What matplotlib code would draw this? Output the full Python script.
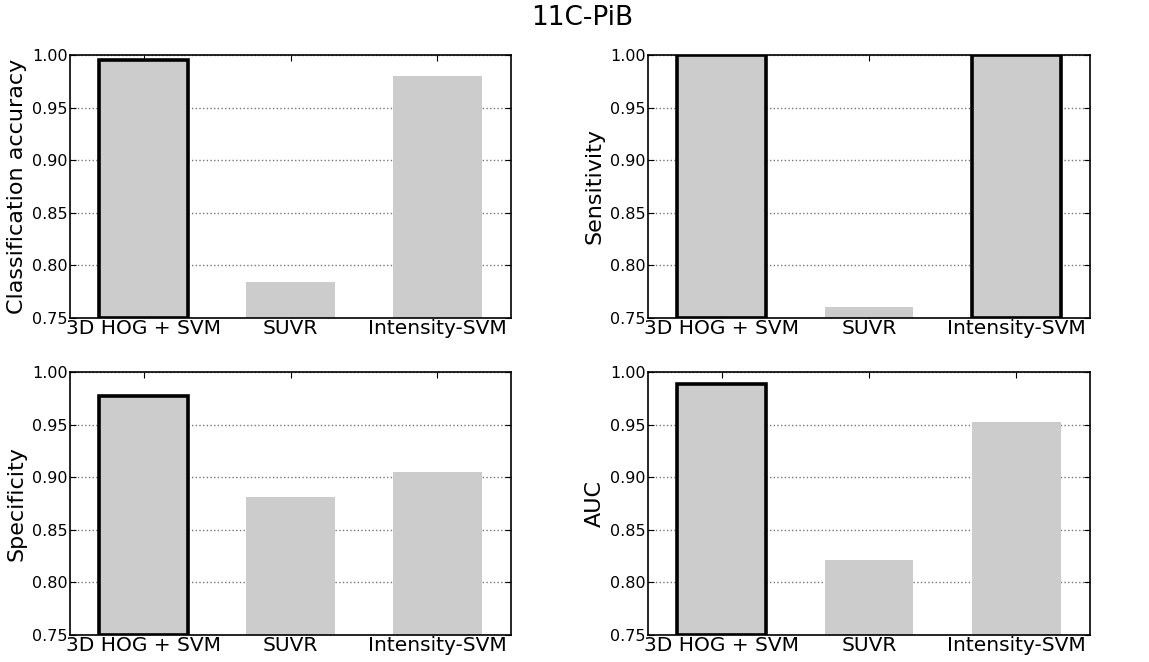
import numpy as np
import matplotlib
matplotlib.use('Agg')
import matplotlib.pyplot as plt

# ── data ──────────────────────────────────────────────────────────────────────
METHODS     = ["3D HOG + SVM", "SUVR", "Intensity-SVM"]
ACCURACY    = [0.995, 0.784, 0.980]
SENSITIVITY = [1.000, 0.760, 1.000]
SPECIFICITY = [0.977, 0.881, 0.905]
AUC         = [0.989, 0.821, 0.952]
YLABELS     = ["Classification accuracy", "Sensitivity", "Specificity", "AUC"]
YTICKS      = [0.75, 0.80, 0.85, 0.90, 0.95, 1.00]
TITLE       = "11C-PiB"

W, H = 1149, 662
fig = plt.figure(figsize=(W/100, H/100), dpi=100, facecolor='white')

# axes boxes in pixels: left, right, top, bottom
BOXES = [(70, 511, 55, 318), (648, 1090, 55, 318),
         (70, 511, 372, 635), (648, 1090, 372, 635)]

for vals, ylab, (l, r, t, b) in zip([ACCURACY, SENSITIVITY, SPECIFICITY, AUC],
                                    YLABELS, BOXES):
    ax = fig.add_axes([l/W, 1-b/H, (r-l)/W, (b-t)/H])
    x = np.arange(len(METHODS))
    best = max(vals)
    for xi, v in zip(x, vals):
        hi = v == best
        ax.bar(xi, v - 0.75, bottom=0.75, width=0.6, color='#cccccc',
               edgecolor='black' if hi else 'none',
               linewidth=2.6 if hi else 0, zorder=2)
    ax.set_xlim(-0.5, 2.5)
    ax.set_ylim(0.75, 1.0)
    ax.set_xticks(x)
    ax.set_xticklabels(METHODS, fontsize=14.5)
    ax.set_yticks(YTICKS)
    ax.set_yticklabels([f"{v:.2f}" for v in YTICKS], fontsize=11.5)
    ax.set_ylabel(ylab, fontsize=16, labelpad=4)
    ax.yaxis.grid(True, ls=':', color='#777777', lw=1.0, zorder=0)
    ax.set_axisbelow(True)
    ax.tick_params(direction='in', top=True, right=True, length=4,
                   width=0.8)
    ax.tick_params(axis='y', pad=1.5)
    ax.tick_params(axis='x', pad=1)
    for s in ax.spines.values():
        s.set_linewidth(1.2)

fig.text(582/W, 1-18/H, TITLE, ha='center', va='center', fontsize=19)

plt.savefig('out.png', dpi=100, facecolor='white')
